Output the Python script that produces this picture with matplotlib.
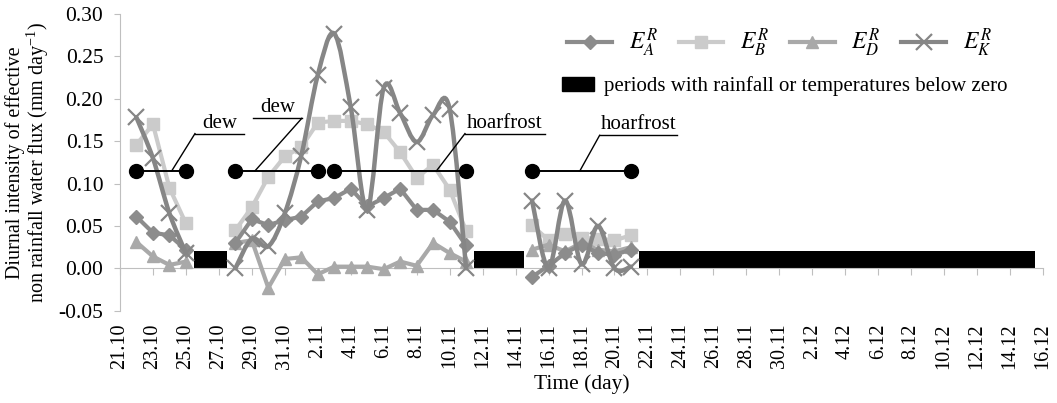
import numpy as np
import matplotlib
matplotlib.use("Agg")
import matplotlib.pyplot as plt
from matplotlib.path import Path
from matplotlib.patches import PathPatch, Patch
from matplotlib.lines import Line2D

plt.rcParams['font.family'] = ['Liberation Serif', 'DejaVu Serif']
plt.rcParams['mathtext.fontset'] = 'stix'
plt.rcParams['axes.unicode_minus'] = False

# days counted from 21.10 (day 0); series cover days 1..31
days = np.arange(1, 32)
nan = np.nan
e_a = [0.061, 0.042, 0.039, 0.022, nan, nan, 0.030, 0.058, 0.051, 0.057,
       0.061, 0.079, 0.083, 0.094, 0.073, 0.083, 0.094, 0.069, 0.069, 0.055,
       0.027, nan, nan, nan, -0.010, 0.003, 0.018, 0.028, 0.018, 0.016, 0.022]
e_b = [0.146, 0.170, 0.095, 0.053, nan, nan, 0.045, 0.072, 0.108, 0.132,
       0.143, 0.172, 0.174, 0.174, 0.170, 0.161, 0.137, 0.107, 0.122, 0.093,
       0.044, nan, nan, nan, 0.051, 0.033, 0.040, 0.036, 0.035, 0.033, 0.039]
e_d = [0.031, 0.014, 0.004, 0.008, nan, nan, 0.030, 0.033, -0.023, 0.011,
       0.013, -0.007, 0.002, 0.002, 0.002, -0.001, 0.008, 0.003, 0.030, 0.018,
       0.008, nan, nan, nan, 0.022, 0.028, 0.020, 0.030, 0.022, 0.020, 0.025]
e_k = [0.178, 0.130, 0.065, 0.018, nan, nan, 0.000, 0.035, 0.026, 0.065,
       0.133, 0.228, 0.277, 0.190, 0.069, 0.213, 0.183, 0.149, 0.181, 0.188,
       0.000, nan, nan, nan, 0.080, 0.000, 0.080, 0.005, 0.050, 0.000, 0.002]

# days with rainfall or frost
rain_days = [5, 6, 22, 23, 24] + list(range(32, 56))
rain_height = 0.02

# dew / hoarfrost periods (start day, end day) and their level
periods = [(1, 4), (7, 12), (13, 21), (25, 31)]
period_level = 0.115

tick_days = np.arange(0, 57, 2)
tick_labels = ['21.10', '23.10', '25.10', '27.10', '29.10', '31.10',
               '2.11', '4.11', '6.11', '8.11', '10.11', '12.11', '14.11',
               '16.11', '18.11', '20.11', '22.11', '24.11', '26.11', '28.11',
               '30.11', '2.12', '4.12', '6.12', '8.12', '10.12', '12.12',
               '14.12', '16.12']


def smooth_path(x, y):
    # cubic bezier through the points, like a smoothed spreadsheet line
    x = np.asarray(x, float)
    y = np.asarray(y, float)
    verts, codes = [], []
    ok = ~np.isnan(y)
    idx = np.where(ok)[0]
    runs = np.split(idx, np.where(np.diff(idx) > 1)[0] + 1)
    for r in runs:
        px, py = x[r], y[r]
        n = len(px)
        verts.append((px[0], py[0]))
        codes.append(Path.MOVETO)
        for i in range(n - 1):
            i0 = max(i - 1, 0)
            i3 = min(i + 2, n - 1)
            c1 = (px[i] + (px[i + 1] - px[i0]) / 6, py[i] + (py[i + 1] - py[i0]) / 6)
            c2 = (px[i + 1] - (px[i3] - px[i]) / 6, py[i + 1] - (py[i3] - py[i]) / 6)
            verts += [c1, c2, (px[i + 1], py[i + 1])]
            codes += [Path.CURVE4] * 3
    return Path(verts, codes)


fig = plt.figure(figsize=(10.57, 4.03), dpi=100)
ax = fig.add_axes([0.1135, 0.229, 0.8733, 0.736])

c_a, c_b, c_d, c_k = '#8c8c8c', '#cbcbcb', '#a9a9a9', '#868686'

ax.bar(rain_days, [rain_height] * len(rain_days), width=1.0, color='black',
       zorder=2)

ax.plot(days, e_b, color=c_b, lw=3, marker='s', ms=9, zorder=3)
ax.plot(days, e_d, color=c_d, lw=3, marker='^', ms=9, zorder=3)
ax.plot(days, e_a, color=c_a, lw=3, marker='D', ms=7, zorder=4)
ax.add_patch(PathPatch(smooth_path(days, e_k), fill=False, edgecolor=c_k,
                       lw=3.2, zorder=5, capstyle='round'))
ax.plot(days, e_k, ls='none', marker='x', ms=11, mew=1.6, color=c_k, zorder=5)

# periods with dew / hoarfrost
for d0, d1 in periods:
    ax.plot([d0, d1], [period_level, period_level], color='black', lw=1.4,
            marker='o', ms=10, zorder=6)

notes = [('dew', (3.14, period_level), (4.55, 7.52), 0.159, 'left'),
         ('dew', (8.19, period_level), (8.07, 11.03), 0.177, 'right'),
         ('hoarfrost', (19.2, period_level), (20.93, 25.8), 0.159, 'left'),
         ('hoarfrost', (27.9, period_level), (29.1, 33.8), 0.157, 'left')]
for text, (ax0, ay0), (u0, u1), uy, side in notes:
    kx = u0 if side == 'left' else u1
    ax.plot([ax0, kx], [ay0, uy], color='black', lw=1, zorder=6)
    ax.plot([u0, u1], [uy, uy], color='black', lw=1, zorder=6)
    ax.text((u0 + u1) / 2, uy + 0.001, text, ha='center', va='bottom',
            fontsize=15, zorder=7)

ax.set_xlim(0, 56)
ax.set_ylim(-0.05, 0.30)
ax.set_yticks(np.arange(-0.05, 0.301, 0.05))
ax.yaxis.set_major_formatter(matplotlib.ticker.FormatStrFormatter('%.2f'))
ax.tick_params(axis='y', labelsize=15.5, length=4, color='#bfbfbf', pad=8)

for s in ['top', 'right']:
    ax.spines[s].set_visible(False)
ax.spines['left'].set_color('#bfbfbf')
ax.spines['bottom'].set_color('#bfbfbf')
ax.spines['bottom'].set_position(('data', 0))
ax.set_xticks(tick_days)
ax.tick_params(axis='x', length=5, color='#bfbfbf', labelbottom=False)

sec = ax.secondary_xaxis(0)
sec.set_xticks(tick_days, labels=tick_labels, rotation=90)
sec.tick_params(length=0, pad=9, labelsize=14.5)
sec.spines['bottom'].set_visible(False)
sec.set_xlabel('Time (day)', fontsize=15.5, labelpad=4)

ax.set_ylabel('Diurnal intensity of effective\n'
              'non rainfall water flux (mm day$^{\\mathregular{-1}}$)',
              fontsize=14.5, labelpad=5, linespacing=1.0)

handles = [Line2D([], [], color=c_a, lw=3, marker='D', ms=7),
           Line2D([], [], color=c_b, lw=3, marker='s', ms=9),
           Line2D([], [], color=c_d, lw=3, marker='^', ms=9),
           Line2D([], [], color=c_k, lw=3, marker='x', ms=11, mew=1.6)]
labels = ['$E^{R}_{A}$', '$E^{R}_{B}$', '$E^{R}_{D}$', '$E^{R}_{K}$']
leg1 = ax.legend(handles, labels, loc='center right', ncol=4, frameon=False,
                 bbox_to_anchor=(0.957, 0.902), borderpad=0, fontsize=17,
                 handlelength=1.9, handletextpad=0.7, columnspacing=0.9)
ax.add_artist(leg1)
ax.legend([Patch(color='black')],
          ['periods with rainfall or temperatures below zero'],
          loc='center left', bbox_to_anchor=(0.468, 0.757), frameon=False,
          borderpad=0, fontsize=15, handlelength=1.5, handleheight=0.7,
          handletextpad=0.5)

fig.savefig('out.png', dpi=100)
